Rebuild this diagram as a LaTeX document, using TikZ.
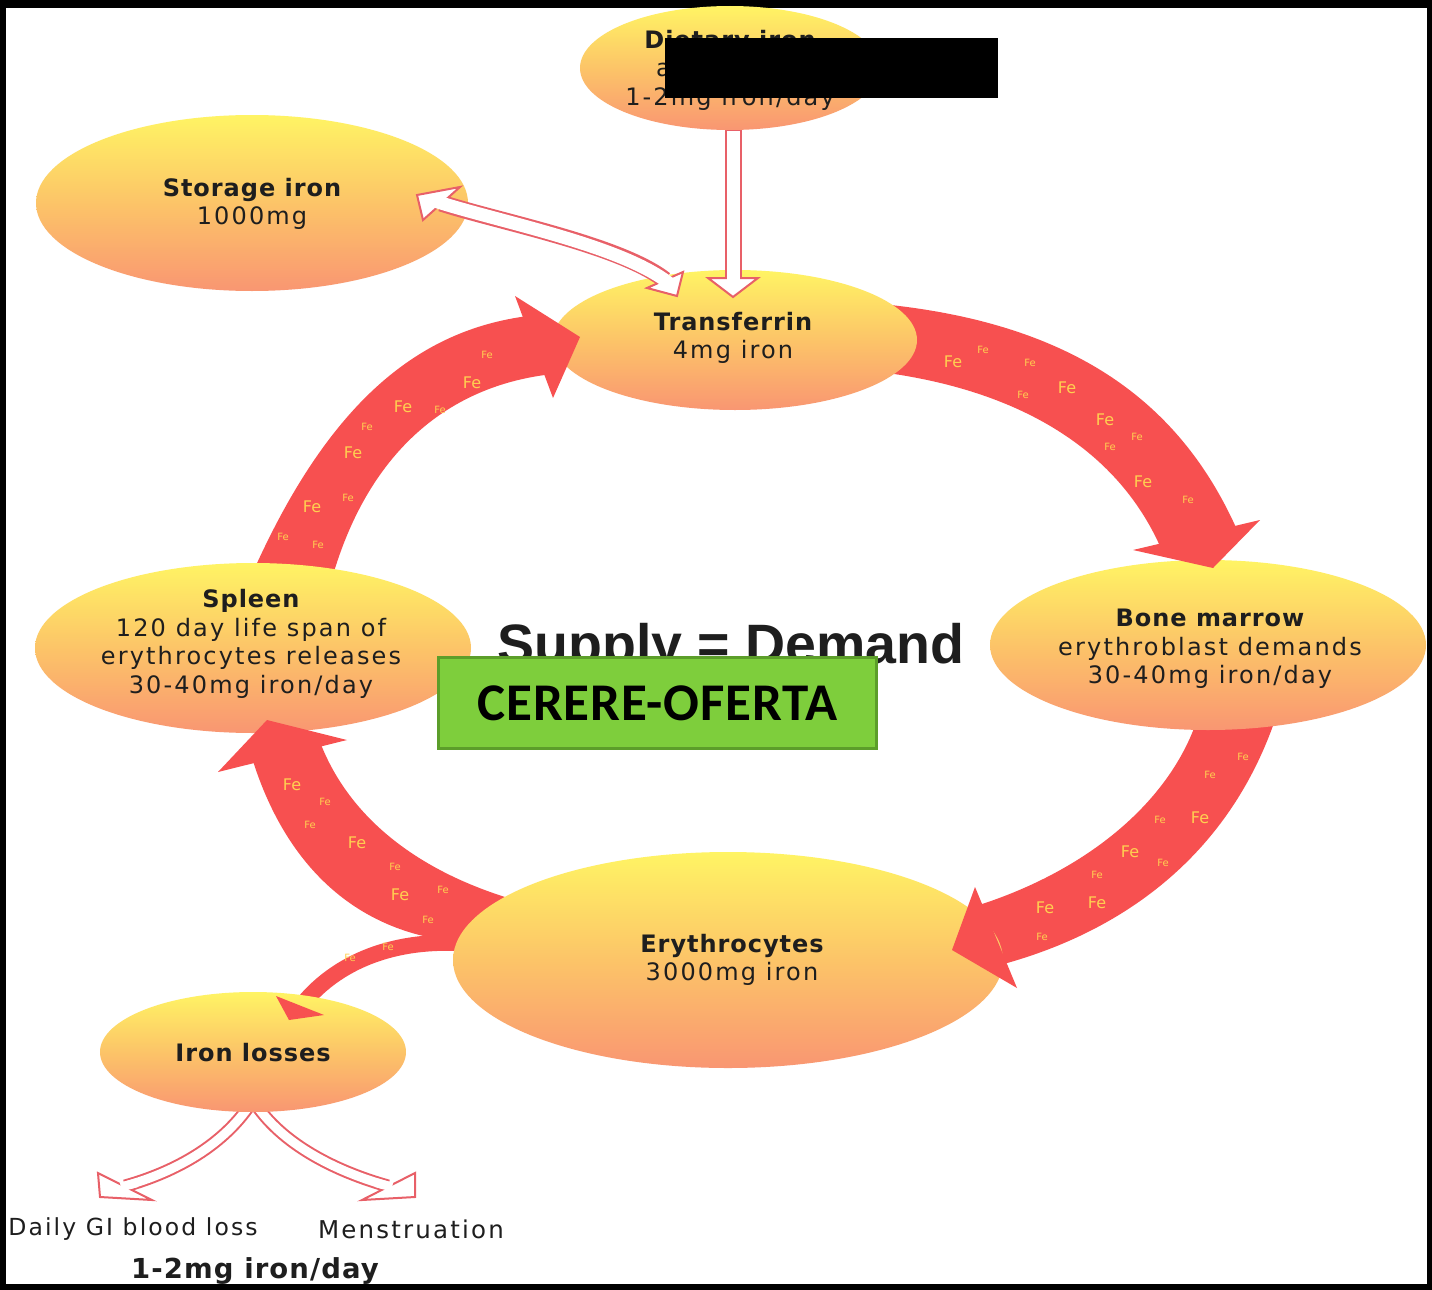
\documentclass[tikz,border=0pt]{standalone}
\usepackage{fontspec}
\usetikzlibrary{shapes.geometric}
\newfontfamily\bodyfont{DejaVu Sans}[LetterSpace=9]
\newfontfamily\titlefont{DejaVu Sans}[LetterSpace=4]
\newfontfamily\fefont{DejaVu Sans}
\newfontfamily\supfont{Liberation Sans}
\newfontfamily\boxfont{Carlito}[LetterSpace=1.5]
\definecolor{arrowred}{RGB}{247,80,80}
\definecolor{ylw}{RGB}{255,244,100}
\definecolor{org}{RGB}{252,196,104}
\definecolor{sal}{RGB}{249,150,114}
\definecolor{txtc}{RGB}{30,30,30}
\definecolor{pinkline}{RGB}{232,96,104}
\definecolor{feyel}{RGB}{255,208,80}
\definecolor{boxgreen}{RGB}{126,206,60}
\definecolor{boxedge}{RGB}{92,158,42}
\begin{document}
\begin{tikzpicture}[x=1pt,y=-1pt,
  ell/.style={ellipse, draw=none, top color=ylw, bottom color=sal, middle color=org, inner sep=0pt},
  lbl/.style={text=txtc, align=center, inner sep=0pt, font=\bodyfont\fontsize{24}{28.5}\selectfont},
  redbody/.style={fill=arrowred},
  hollowout/.style={draw=pinkline, line width=17pt},
  hollowin/.style={draw=white, line width=13pt},
  hollowhead/.style={fill=white, draw=pinkline, line width=2pt, line join=miter},
  febig/.style={text=feyel, inner sep=0pt, font=\fefont\fontsize{16}{16}\selectfont},
  fesmall/.style={text=feyel, inner sep=0pt, font=\fefont\fontsize{10}{10}\selectfont}]
\useasboundingbox (0,0) rectangle (1432,1290);
\fill[black] (0,0) rectangle (1432,1290);
\fill[white] (6,8) rectangle (1427,1284);

% ---- red arrow bodies (behind ellipses)
\fill[redbody] (253,572) .. controls (330,400) and (420,330) .. (528,316) -- (553,374) .. controls (450,385) and (370,450) .. (333,575) -- cycle;
\fill[redbody] (870,303) .. controls (1070,320) and (1180,400) .. (1238,532) -- (1163,553) .. controls (1120,450) and (1020,390) .. (880,372) -- cycle;
\fill[redbody] (1275,720) .. controls (1230,850) and (1130,930) .. (1000,965) -- (976,906) .. controls (1090,870) and (1170,800) .. (1197,720) -- cycle;
\fill[redbody] (462,942) .. controls (370,935) and (290,880) .. (252,758) -- (320,742) .. controls (350,820) and (420,870) .. (505,897) -- cycle;
\draw[arrowred, line width=16pt] (480,945) .. controls (400,935) and (335,960) .. (298,1010);

% ---- loss arrows shafts (behind iron losses ellipse)
\draw[hollowout, line width=13pt] (253,1100) .. controls (225,1145) and (175,1172) .. (125,1186);
\draw[hollowout, line width=13pt] (253,1100) .. controls (281,1145) and (338,1172) .. (388,1186);
\draw[hollowin, line width=9pt] (253,1100) .. controls (225,1145) and (175,1172) .. (125,1186);
\draw[hollowin, line width=9pt] (253,1100) .. controls (281,1145) and (338,1172) .. (388,1186);

% ---- ellipses
\node[ell, minimum width=300, minimum height=124] (dietary) at (730,68) {};
\node[ell, minimum width=432, minimum height=176] (storage) at (252,203) {};
\node[ell, minimum width=364, minimum height=140] (transferrin) at (735,340) {};
\node[ell, minimum width=436, minimum height=170] (spleen) at (253,648) {};
\node[ell, minimum width=436, minimum height=170] (marrow) at (1208,645) {};
\node[ell, minimum width=550, minimum height=216] (erythro) at (728,960) {};
\node[ell, minimum width=306, minimum height=120] (losses) at (253,1052) {};

% ---- red arrow heads (over ellipses)
\fill[redbody] (515,296) -- (580,337) -- (553,398) -- cycle;
\fill[redbody] (1133,550) -- (1213,568) -- (1260,520) -- cycle;
\fill[redbody] (1017,988) -- (952,950) -- (975,887) -- cycle;
\fill[redbody] (218,772) -- (267,720) -- (347,740) -- cycle;
\fill[redbody] (276,996) -- (289,1020) -- (324,1015) -- cycle;

% ---- Fe labels
\foreach \a/\b [count=\i] in {953/362,1067/388,1105/420,1143/482,472/383,403/407,353/453,312/507,1200/818,1130/852,1097/903,1045/908,292/785,357/843,400/895}
  \node[febig] (feb\i) at (\a,\b) {Fe};
\foreach \a/\b [count=\i] in {983/350,1030/363,1023/395,1137/437,1110/447,1188/500,487/355,440/410,367/427,348/498,283/537,318/545,1243/757,1210/775,1160/820,1163/863,1097/875,1042/937,325/802,310/825,395/867,443/890,428/920,388/947,350/958}
  \node[fesmall] (fes\i) at (\a,\b) {Fe};

% ---- hollow arrows over ellipses
\draw[hollowout] (733,130) -- (733,278);
\draw[hollowhead] (708,278) -- (733,297) -- (758,278) -- cycle;
\draw[hollowin] (733,131) -- (733,283);

\draw[hollowout] (441,203) .. controls (500,222) and (620,245) .. (665,280);
\draw[hollowhead] (460,187) -- (417,195) -- (423,220) -- cycle;
\draw[hollowhead] (683,272) -- (677,296) -- (647,288) -- cycle;
\draw[hollowin, shorten <=-5pt, shorten >=-5pt] (441,203) .. controls (500,222) and (620,245) .. (665,280);

\draw[hollowhead] (98,1173) -- (100,1197) -- (152,1200) -- cycle;
\draw[hollowhead] (415,1173) -- (415,1197) -- (362,1200) -- cycle;
\draw[hollowin, line width=9pt] (137,1182.6) -- (121,1187.1);
\draw[hollowin, line width=9pt] (376,1182.6) -- (392,1187.1);

% ---- labels
\node[lbl] (dietarytxt) at (730,70) {{\titlefont\bfseries Dietary iron}\\absorption\\1-2mg iron/day};
\node[lbl] (storagetxt) at (252,204) {{\titlefont\bfseries Storage iron}\\1000mg};
\node[lbl] (transferrintxt) at (733,338) {{\titlefont\bfseries Transferrin}\\4mg iron};
\node[lbl] (spleentxt) at (251,644) {{\titlefont\bfseries Spleen}\\120 day life span of\\erythrocytes releases\\30-40mg iron/day};
\node[lbl] (marrowtxt) at (1210,649) {{\titlefont\bfseries Bone marrow}\\erythroblast demands\\30-40mg iron/day};
\node[lbl] (erythrotxt) at (732,960) {{\titlefont\bfseries Erythrocytes}\\3000mg iron};
\node[lbl] (lossestxt) at (253,1053) {\titlefont\bfseries Iron losses};
\node[lbl, font=\bodyfont\fontsize{23.5}{27}\selectfont] (gitxt) at (133,1229) {Daily GI blood loss};
\node[lbl, font=\bodyfont\fontsize{24.5}{27}\selectfont] (menstxt) at (411,1229) {Menstruation};
\node[lbl, font=\titlefont\bfseries\fontsize{27.5}{30}\selectfont] (perdaytxt) at (255,1271) {1-2mg iron/day};

\node[text=txtc, inner sep=0pt, anchor=base, font=\supfont\bfseries\fontsize{55.5}{56}\selectfont] (supply) at (731,663) {Supply = Demand};

% redaction box
\fill[black] (665,38) rectangle (998,98);

% green box
\node[draw=boxedge, line width=3pt, fill=boxgreen, minimum width=438, minimum height=91, inner sep=0pt, font=\boxfont\bfseries\fontsize{53}{54}\selectfont, text=black] (cerere) at (657.5,703) {CERERE-OFERTA};
\end{tikzpicture}
\end{document}
